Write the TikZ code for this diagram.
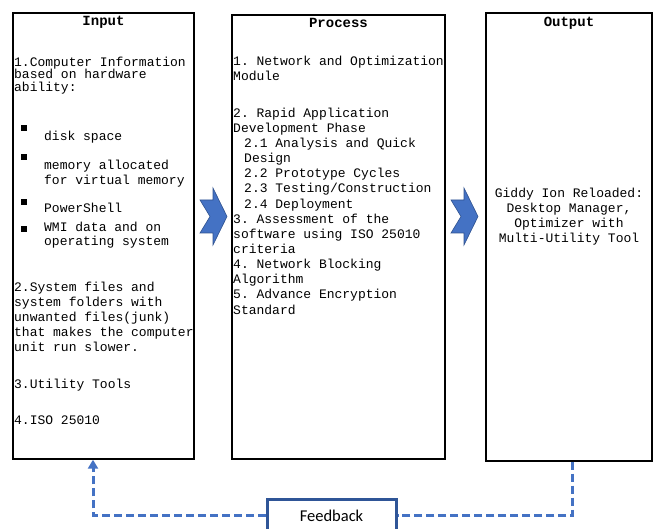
\documentclass[tikz,border=0pt]{standalone}
\usepackage{fontspec}
\setmonofont{Liberation Mono}
\newfontfamily\fbfont{Carlito}
\usepackage{tikz}
\usetikzlibrary{positioning,arrows.meta}

\definecolor{dashblue}{HTML}{4472C4}
\definecolor{edgeblue}{HTML}{2F528F}
\definecolor{fbblue}{HTML}{2F5597}

\begin{document}
\begin{tikzpicture}[x=1pt,y=-1pt]
        \tikzstyle{box}=[draw, line width=1.4pt, inner sep=0pt]
        \tikzstyle{title}=[inner sep=0pt, anchor=base, font={\ttfamily\bfseries\fontsize{14}{15}\selectfont}]
        \tikzstyle{body}=[inner sep=0pt, anchor=north west, align=left, font={\ttfamily\fontsize{13}{15.15}\selectfont}]
        \tikzstyle{line}=[inner sep=0pt, anchor=base west, font={\ttfamily\fontsize{13}{15}\selectfont}]
        \tikzstyle{tight}=[body, font={\ttfamily\fontsize{13}{12.3}\selectfont}]
        \tikzstyle{bullet}=[fill, minimum size=6pt, inner sep=0pt]
        \tikzstyle{fb}=[dashblue, line width=3pt, dash pattern=on 8pt off 4pt]
        \tikzset{chevron/.pic={
            \filldraw[fill=dashblue, draw=edgeblue, line width=0.6pt]
                (0,0) -- (13,0) -- (13,-12) -- (27,16.5) -- (13,45) -- (13,33)
                -- (0,33) -- (10,16.5) -- cycle;
        }}

        \clip (0,0) rectangle (657,529);

        % the three boxes
        \node[box, minimum width=181pt, minimum height=446pt] (input)   at (103.5,236) {};
        \node[box, minimum width=213pt, minimum height=444pt] (process) at (338.5,237) {};
        \node[box, minimum width=166pt, minimum height=448pt] (output)  at (569,237) {};

        \node[title] (intitle)   at (103.5,26) {Input};
        \node[title] (proctitle) at (338.5,28) {Process};
        \node[title] (outtitle)  at (569,27)   {Output};

        % input
        \node[tight] (in1) at (14,57) {1.Computer Information\\based on hardware\\ability:};
        \node[bullet] (b1) at (24,128) {};
        \node[bullet] (b2) at (24,157) {};
        \node[bullet] (b3) at (24,202) {};
        \node[bullet] (b4) at (24,229) {};
        \node[line] (disk)  at (44,140.5) {disk space};
        \node[body] (mem)   at (44,159.5) {memory allocated\\for virtual memory};
        \node[line] (shell) at (44,212.5) {PowerShell};
        \node[body, font={\ttfamily\fontsize{13}{14}\selectfont}] (wmi) at (44,221.5) {WMI data and on\\operating system};
        \node[body] (in2) at (14,281.5) {2.System files and\\system folders with\\unwanted files(junk)\\that makes the computer\\unit run slower.};
        \node[line] (in3) at (14,388.5) {3.Utility Tools};
        \node[line] (in4) at (14,424.5) {4.ISO 25010};

        % process
        \node[body] (pr1) at (233,55.5) {1. Network and Optimization\\Module};
        \node[body] (pr2) at (233,107.5) {2. Rapid Application\\Development Phase\\
            \hspace*{11pt}2.1 Analysis and Quick\\\hspace*{11pt}Design\\
            \hspace*{11pt}2.2 Prototype Cycles\\\hspace*{11pt}2.3 Testing/Construction\\
            \hspace*{11pt}2.4 Deployment\\3. Assessment of the\\software using ISO 25010\\
            criteria\\4. Network Blocking\\Algorithm\\5. Advance Encryption\\Standard};

        % output
        \node[body, anchor=north, align=center] (out1) at (569,187.5)
            {Giddy Ion Reloaded:\\Desktop Manager,\\Optimizer with\\Multi-Utility Tool};

        % block arrows
        \pic at (200,200) {chevron};
        \pic at (451,200) {chevron};

        % feedback loop
        \node[draw=fbblue, line width=3pt, minimum width=129pt, minimum height=32pt,
              font={\fbfont\fontsize{16.5}{18}\selectfont}] (feedback) at (331.5,516) {Feedback};
        \draw[fb, -{Triangle[length=9pt,width=10pt]}] (feedback.west) -| ([xshift=-10.5pt]input.south);
        \draw[fb] ([xshift=3pt]output.south) |- (feedback.east);

    \end{tikzpicture}
\end{document}
